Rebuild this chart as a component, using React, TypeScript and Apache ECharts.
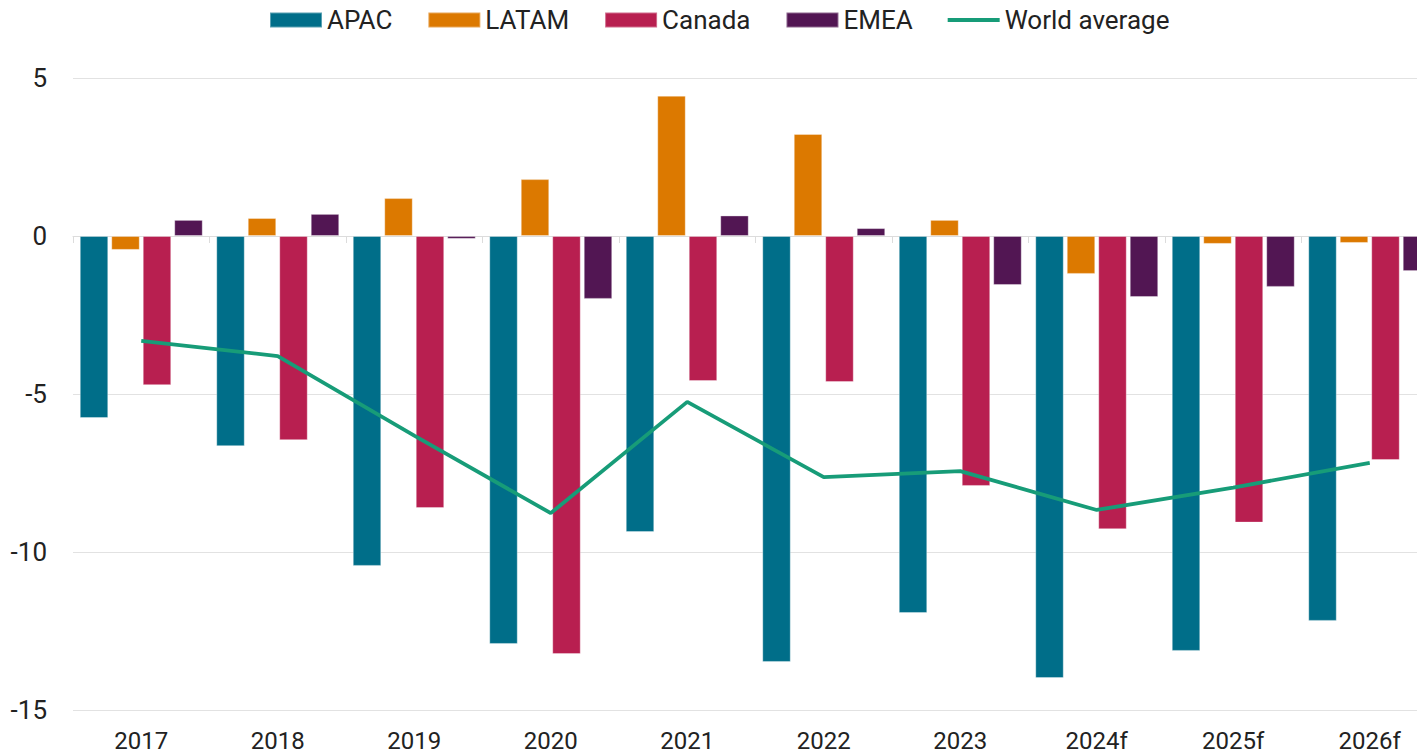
import React, { useEffect, useRef } from "react";
import * as echarts from "echarts";

const categories = ["2017", "2018", "2019", "2020", "2021", "2022", "2023", "2024f", "2025f", "2026f"];
const apac = [-5.76, -6.65, -10.44, -12.91, -9.37, -13.48, -11.93, -13.99, -13.13, -12.18];
const latam = [-0.44, 0.57, 1.2, 1.8, 4.44, 3.23, 0.51, -1.2, -0.25, -0.22];
const canada = [-4.72, -6.46, -8.61, -13.23, -4.59, -4.62, -7.91, -9.28, -9.07, -7.09];
const emea = [0.51, 0.7, -0.09, -1.99, 0.65, 0.25, -1.55, -1.93, -1.61, -1.11];
const worldAverage = [-3.32, -3.8, -6.32, -8.77, -5.25, -7.63, -7.44, -8.67, -7.96, -7.18];
const yTicks = { min: -15, max: 5, interval: 5 };

const FONT = "Roboto, 'Liberation Sans', sans-serif";
const TEXT = "#222222";
const LINE_COLOR = "#179C78";

export default function App() {
  const ref = useRef<HTMLDivElement>(null);
  useEffect(() => {
    if (!ref.current) return;
    const chart = echarts.init(ref.current, null, { renderer: "svg" });
    const barBase = {
      type: "bar" as const,
      barWidth: 28.5,
      barGap: "10.5%",
      xAxisIndex: 0,
      itemStyle: { borderColor: "rgba(255,255,255,0.35)", borderWidth: 1 },
    };
    chart.setOption({
      animation: false,
      textStyle: { fontFamily: FONT },
      grid: { left: 73, right: 0, top: 78, bottom: 45, containLabel: false },
      legend: {
        left: 269,
        top: 7,
        padding: 0,
        itemWidth: 52,
        itemHeight: 15,
        itemGap: 35,
        textStyle: { fontSize: 26, color: TEXT, fontFamily: FONT },
        data: [
          { name: "APAC", icon: "rect" },
          { name: "LATAM", icon: "rect" },
          { name: "Canada", icon: "rect" },
          { name: "EMEA", icon: "rect" },
          { name: "World average", icon: "path://M0,0L54,0L54,4L0,4Z" },
        ],
      },
      xAxis: [
        {
          type: "category",
          data: categories,
          axisLine: { onZero: true, lineStyle: { color: "#DCDCDC", width: 1 } },
          axisTick: { show: true, length: 7, lineStyle: { color: "#DCDCDC" } },
          axisLabel: { show: false },
        },
        {
          type: "category",
          data: categories,
          position: "bottom",
          axisLine: { show: false, onZero: false },
          axisTick: { show: false },
          axisLabel: { fontSize: 24, color: TEXT, margin: 19, fontFamily: FONT },
        },
      ],
      yAxis: {
        type: "value",
        min: yTicks.min,
        max: yTicks.max,
        interval: yTicks.interval,
        axisLine: { show: false },
        axisTick: { show: false },
        axisLabel: { fontSize: 26, color: TEXT, margin: 26, fontFamily: FONT },
        splitLine: { lineStyle: { color: "#E2E2E2", width: 1 } },
      },
      series: [
        { ...barBase, name: "APAC", data: apac, itemStyle: { ...barBase.itemStyle, color: "#006E89" } },
        { ...barBase, name: "LATAM", data: latam, itemStyle: { ...barBase.itemStyle, color: "#DC7900" } },
        { ...barBase, name: "Canada", data: canada, itemStyle: { ...barBase.itemStyle, color: "#B81F50" } },
        { ...barBase, name: "EMEA", data: emea, itemStyle: { ...barBase.itemStyle, color: "#521653" } },
        {
          type: "line",
          name: "World average",
          data: worldAverage,
          xAxisIndex: 0,
          symbol: "none",
          lineStyle: { color: LINE_COLOR, width: 3.8 },
          itemStyle: { color: LINE_COLOR },
          z: 5,
        },
      ],
    });
    return () => chart.dispose();
  }, []);
  return (
    <div style={{ position: "absolute", left: 0, top: 0, width: 1417, height: 755, overflow: "hidden", background: "#fff" }}>
      <div ref={ref} style={{ width: 1438, height: 755 }} />
    </div>
  );
}
